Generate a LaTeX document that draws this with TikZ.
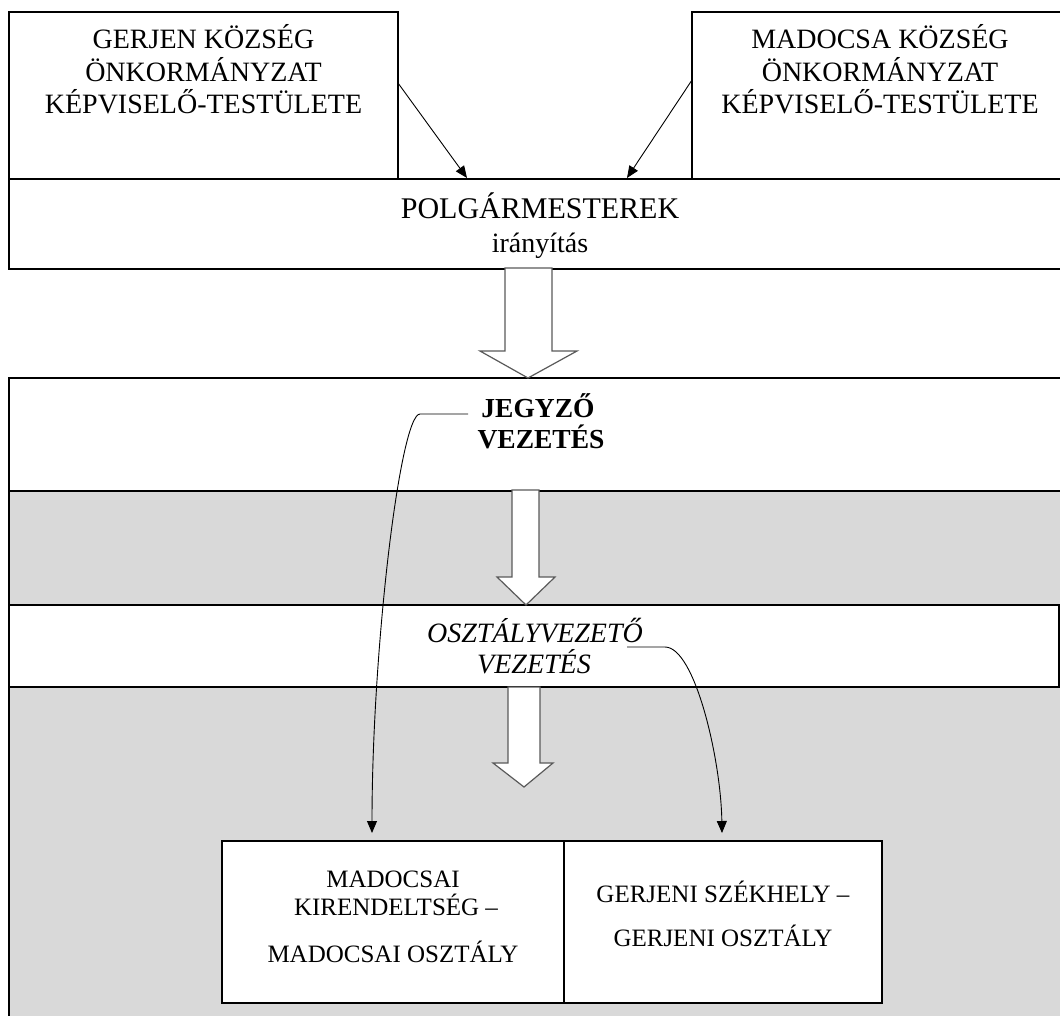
\documentclass[tikz,border=0pt]{standalone}
\usepackage{fontspec}
\setmainfont{Liberation Serif}
\usetikzlibrary{arrows.meta}
\definecolor{bandgray}{HTML}{D9D9D9}
\definecolor{hollowgray}{HTML}{5A5A5A}
\begin{document}
\begin{tikzpicture}[x=1pt,y=-1pt,
  box/.style={draw, line width=1.3pt, fill=white, inner sep=0pt, outer sep=0pt, anchor=north west},
  graybox/.style={box, fill=bandgray},
  lbl/.style={inner sep=0pt, anchor=base, font=\fontsize{28}{33}\selectfont},
  biglbl/.style={lbl, font=\fontsize{30}{33}\selectfont},
  boldlbl/.style={lbl, font=\fontsize{27.5}{33}\selectfont\bfseries},
  itlbl/.style={lbl, font=\fontsize{28}{33}\selectfont\itshape},
  smalllbl/.style={lbl, font=\fontsize{25}{30}\selectfont},
  conn/.style={draw, line width=0.9pt, -{Triangle[length=12pt,width=10pt]}},
  hollow/.style={draw=hollowgray, line width=1.2pt, fill=white, line join=miter}
]
\useasboundingbox (0,0) rectangle (1060,1015);
\clip (0,0) rectangle (1060,1015);
\fill[white] (0,0) rectangle (1060,1015);

% lower frame areas
\node[graybox, minimum width=1061pt, minimum height=343pt] (lower) at (9,687) {};
\node[box, minimum width=1061pt, minimum height=113pt] (jegyzo) at (9,378) {};
\node[graybox, minimum width=1061pt, minimum height=114pt] (band) at (9,491) {};
\node[box, minimum width=1050pt, minimum height=82pt] (osztaly) at (9,605) {};

% top boxes
\node[box, minimum width=389pt, minimum height=167pt] (gerjen) at (9,12) {};
\node[box, minimum width=378pt, minimum height=167pt] (madocsa) at (692,12) {};
\node[box, minimum width=1061pt, minimum height=90pt] (polg) at (9,179) {};

% bottom boxes
\node[box, minimum width=342pt, minimum height=162pt] (madkir) at (222,841) {};
\node[box, minimum width=318pt, minimum height=162pt] (gersz) at (564,841) {};

% texts
\node[lbl] (g1) at (203.5,48) {GERJEN KÖZSÉG};
\node[lbl] (g2) at (203.5,81) {ÖNKORMÁNYZAT};
\node[lbl] (g3) at (203.5,113) {KÉPVISELŐ-TESTÜLETE};
\node[lbl] (m1) at (880,48) {MADOCSA KÖZSÉG};
\node[lbl] (m2) at (880,81) {ÖNKORMÁNYZAT};
\node[lbl] (m3) at (880,113) {KÉPVISELŐ-TESTÜLETE};
\node[biglbl] (p1) at (540,218) {POLGÁRMESTEREK};
\node[lbl] (p2) at (540,252) {irányítás};
\node[boldlbl] (j1) at (538,417) {JEGYZŐ};
\node[boldlbl] (j2) at (541,448) {VEZETÉS};
\node[itlbl] (o1) at (535,642) {OSZTÁLYVEZETŐ};
\node[itlbl] (o2) at (534,673) {VEZETÉS};
\node[smalllbl] (b1) at (393,887) {MADOCSAI};
\node[smalllbl] (b2) at (396,915) {KIRENDELTSÉG –};
\node[smalllbl] (b3) at (393,962) {MADOCSAI OSZTÁLY};
\node[smalllbl] (r1) at (723,902) {GERJENI SZÉKHELY –};
\node[smalllbl] (r2) at (723,946) {GERJENI OSZTÁLY};

% hollow arrows
\draw[hollow] (505,268) -- (505,351) -- (480,351) -- (528,378) -- (577,351) -- (552,351) -- (552,268) -- cycle;
\draw[hollow] (512,490) -- (512,577) -- (497,577) -- (526,605) -- (555,577) -- (539,577) -- (539,490) -- cycle;
\draw[hollow] (508,687) -- (508,763) -- (493,763) -- (524,787) -- (553,763) -- (540,763) -- (540,687) -- cycle;

% connectors
\coordinate (gs) at (398,83);
\coordinate (gt) at (467,178);
\coordinate (ms) at (692,80);
\coordinate (mt) at (627,178);
\draw[conn] (gs) -- (gt);
\draw[conn] (ms) -- (mt);

\coordinate (js) at (468,414);
\coordinate (jb) at (420,414);
\coordinate (jt) at (372,833);
\draw[conn] (js) -- (jb) .. controls (400,414) and (372,650) .. (jt);

\coordinate (os) at (627,647);
\coordinate (ob) at (665,647);
\coordinate (ot) at (722,833);
\draw[conn] (os) -- (ob) .. controls (695,647) and (721,760) .. (ot);
\end{tikzpicture}
\end{document}
